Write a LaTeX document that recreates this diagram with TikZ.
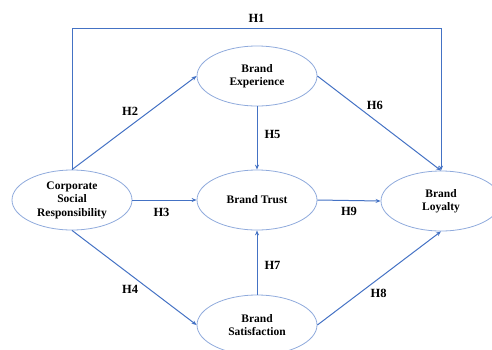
\documentclass[tikz,border=0pt]{standalone}
\usepackage{fontspec}
\setmainfont{Liberation Serif}
\usetikzlibrary{arrows.meta,shapes.geometric}

\definecolor{linkblue}{HTML}{4472C4}
\definecolor{rimblue}{HTML}{8FAADC}

\begin{document}
\begin{tikzpicture}[x=1pt,y=-1pt,
    construct/.style={ellipse,draw=rimblue,line width=0.8pt,minimum width=120pt,
        minimum height=60pt,inner sep=0pt,align=center,
        font=\fontsize{11.5}{13.5}\selectfont\bfseries},
    hyp/.style={font=\fontsize{12.5}{14}\selectfont\bfseries,inner sep=2pt},
    link/.style={draw=linkblue,line width=1pt,-{Stealth[length=5pt,width=4pt]}}]

\useasboundingbox (0,0) rectangle (492,349);

\node[construct] (csr) at (72,200) {Corporate\\Social\\Responsibility};
\node[construct] (exp) at (257,76) {Brand\\Experience};
\node[construct] (trust) at (257,200) {Brand Trust};
\node[construct] (loyal) at (441,201) {Brand\\Loyalty};
\node[construct] (sat) at (257,325) {Brand\\Satisfaction};

\coordinate (top) at (258,28);

\draw[link] (csr.north) -- (csr.north |- top) -| (loyal.north)
    node[hyp,pos=0.25,above=3pt] {H1};

\path (csr.north) edge[link] node[hyp,pos=0.55,above left] {H2} (exp.west)
    (csr.east) edge[link] node[hyp,below=6pt,xshift=-3pt] {H3} (trust.west)
    (csr.south) edge[link] node[hyp,pos=0.55,below left] {H4} (sat.west)
    (exp.south) edge[link] node[hyp,pos=0.45,right=5pt] {H5} (trust.north)
    (exp.east) edge[link] node[hyp,pos=0.38,above right] {H6} (loyal.north)
    (sat.north) edge[link] node[hyp,pos=0.45,right=5pt] {H7} (trust.south)
    (sat.east) edge[link] node[hyp,pos=0.41,below right] {H8} (loyal.south)
    (trust.east) edge[link] node[hyp,below=4pt] {H9} (loyal.west);
\end{tikzpicture}
\end{document}
